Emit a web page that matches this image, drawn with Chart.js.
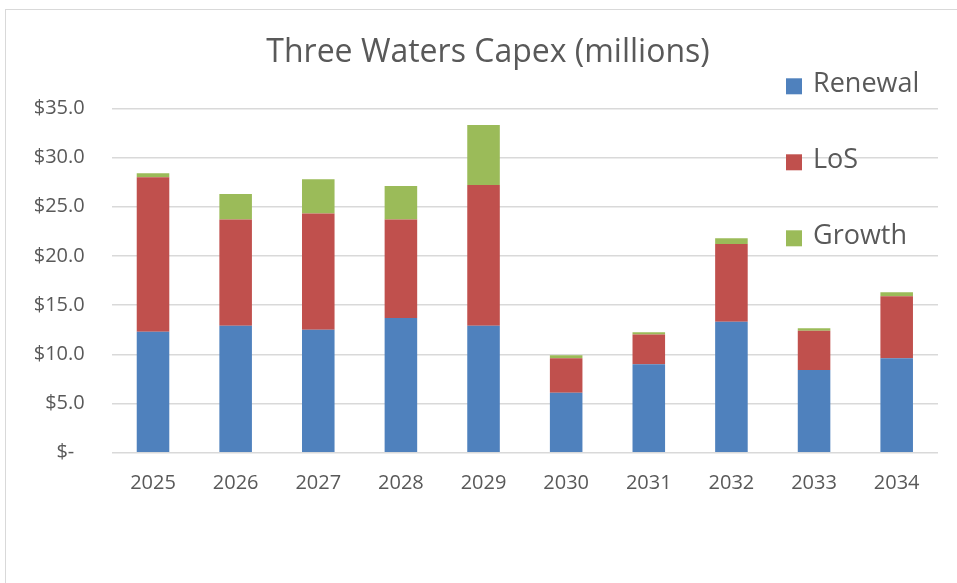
<!DOCTYPE html>
<html>
<head>
<meta charset="utf-8">
<title>Three Waters Capex</title>
<script src="https://cdn.jsdelivr.net/npm/chart.js@4/dist/chart.umd.min.js"></script>
<style>
  html, body {
    margin: 0;
    padding: 0;
    background: #ffffff;
    overflow: hidden;
  }
  #frame {
    position: absolute;
    left: 5px;
    top: 9px;
    width: 966px;
    height: 600px;
    border: 1px solid #d9d9d9;
    box-sizing: border-box;
    background: #ffffff;
  }
</style>
</head>
<body>
<div id="frame">
  <canvas id="capexChart" width="964" height="590"></canvas>
</div>
<script>
// capex by year, in millions
const years = ["2025", "2026", "2027", "2028", "2029", "2030", "2031", "2032", "2033", "2034"];
const renewal = [12.3, 12.9, 12.5, 13.7, 12.9, 6.1, 9.0, 13.3, 8.4, 9.6];
const los = [15.7, 10.8, 11.8, 10.0, 14.3, 3.5, 3.0, 7.9, 4.0, 6.3];
const growth = [0.4, 2.6, 3.5, 3.4, 6.1, 0.3, 0.25, 0.6, 0.25, 0.4];

const seriesNames = ["Renewal", "LoS", "Growth"];
const seriesColors = ["#4f81bd", "#c0504d", "#9bbb59"];
const yTicks = [0, 5, 10, 15, 20, 25, 30, 35];

const chartTitle = "Three Waters Capex (millions)";
const textColor = "#595959";
const fontFamily = "'Open Sans', 'Noto Sans', sans-serif";

function moneyLabel(value) {
  if (value === 0) {
    return "$-  ";
  }
  return "$" + value.toFixed(1);
}

// title centred on the whole frame, not just the plot
const frameTitle = {
  id: "frameTitle",
  afterDraw(chart) {
    const ctx = chart.ctx;
    ctx.save();
    ctx.font = "32px " + fontFamily;
    ctx.fillStyle = textColor;
    ctx.textAlign = "center";
    ctx.textBaseline = "middle";
    ctx.fillText(chartTitle, chart.width / 2, 43);
    ctx.restore();
  },
};

// legend stacked down the right hand side, sitting over the grid
const sideLegend = {
  id: "sideLegend",
  afterDatasetsDraw(chart) {
    const ctx = chart.ctx;
    const area = chart.chartArea;
    const boxX = area.right - 152;
    const textX = area.right - 125;
    let y = area.top - 24;

    ctx.save();
    ctx.font = "27px " + fontFamily;
    ctx.textBaseline = "middle";
    ctx.textAlign = "left";
    chart.data.datasets.forEach((ds) => {
      ctx.fillStyle = ds.backgroundColor;
      ctx.fillRect(boxX, y - 6, 16, 16);
      ctx.fillStyle = textColor;
      ctx.fillText(ds.label, textX, y);
      y += 76;
    });
    ctx.restore();
  },
};

const data = {
  labels: years,
  datasets: [
    { label: seriesNames[0], data: renewal, backgroundColor: seriesColors[0] },
    { label: seriesNames[1], data: los, backgroundColor: seriesColors[1] },
    { label: seriesNames[2], data: growth, backgroundColor: seriesColors[2] },
  ],
};

const config = {
  type: "bar",
  data: data,
  options: {
    responsive: false,
    animation: false,
    datasets: {
      bar: {
        categoryPercentage: 1,
        barPercentage: 0.394,
        borderWidth: 0,
      },
    },
    layout: {
      padding: { left: 0, right: 32, top: 98.3, bottom: 0 },
    },
    plugins: {
      legend: { display: false },
      tooltip: { enabled: false },
      title: { display: false },
    },
    scales: {
      x: {
        stacked: true,
        grid: { display: false, drawTicks: false },
        border: { display: false },
        ticks: {
          color: textColor,
          font: { family: fontFamily, size: 20 },
          padding: 19,
        },
        afterFit: (scale) => {
          scale.height = 147.3;
        },
      },
      y: {
        stacked: true,
        min: 0,
        max: 35,
        afterBuildTicks: (scale) => {
          scale.ticks = yTicks.map((v) => ({ value: v }));
        },
        grid: { color: "#d9d9d9", lineWidth: 1.5, drawTicks: false },
        border: { display: false },
        ticks: {
          color: textColor,
          font: { family: fontFamily, size: 20 },
          padding: 27,
          callback: (value) => moneyLabel(value),
        },
        afterFit: (scale) => {
          scale.width = 105.7;
        },
      },
    },
  },
  plugins: [frameTitle, sideLegend],
};

const myChart = new Chart(document.getElementById("capexChart"), config);
</script>
</body>
</html>
